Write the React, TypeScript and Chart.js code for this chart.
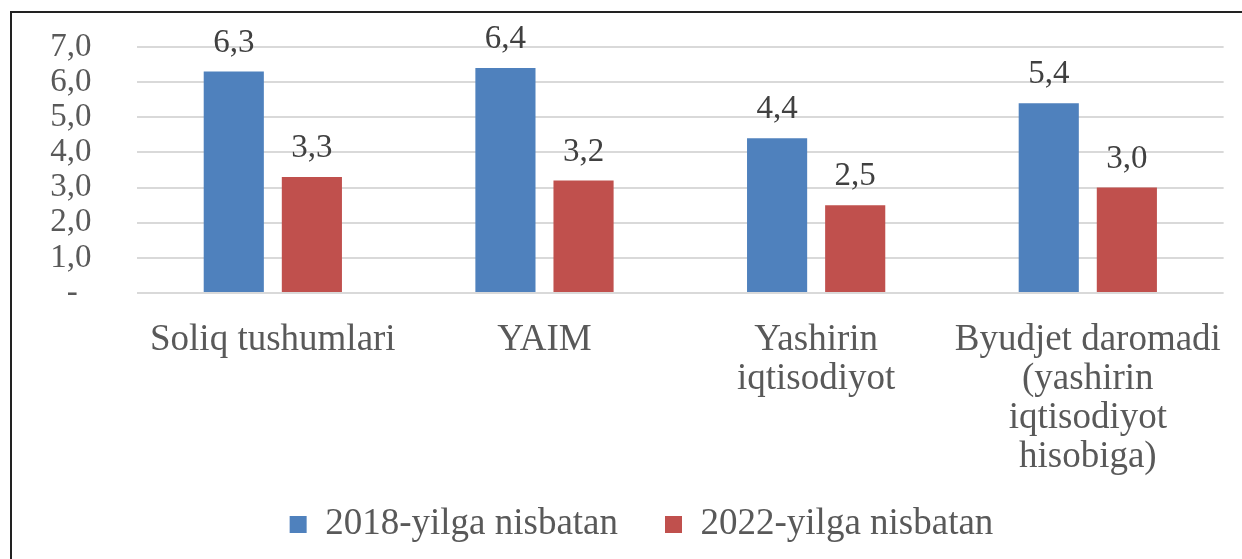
import React, { useEffect, useRef } from "react";
import { Chart, registerables } from "chart.js";

Chart.register(...registerables);

const categories: (string | string[])[] = [
  "Soliq tushumlari",
  "YAIM",
  ["Yashirin", "iqtisodiyot"],
  ["Byudjet daromadi", "(yashirin", "iqtisodiyot", "hisobiga)"],
];
const seriesNames = ["2018-yilga nisbatan", "2022-yilga nisbatan"];
const values2018 = [6.3, 6.4, 4.4, 5.4];
const values2022 = [3.3, 3.2, 2.5, 3.0];
const yMin = 0;
const yMax = 7;
const yStep = 1;

const FONT = "'Liberation Serif', 'Times New Roman', serif";
const fmt = (v: number) => v.toFixed(1).replace(".", ",");

const dataLabelPlugin = {
  id: "dataLabels",
  afterDatasetsDraw(chart: any) {
    const ctx = chart.ctx;
    ctx.save();
    ctx.font = `33px ${FONT}`;
    ctx.fillStyle = "#404040";
    ctx.textAlign = "center";
    ctx.textBaseline = "alphabetic";
    chart.data.datasets.forEach((ds: any, i: number) => {
      const meta = chart.getDatasetMeta(i);
      meta.data.forEach((bar: any, j: number) => {
        ctx.fillText(fmt(ds.data[j]), bar.x, bar.y - 20);
      });
    });
    ctx.restore();
  },
};

export default function App() {
  const ref = useRef<HTMLCanvasElement>(null);
  useEffect(() => {
    if (!ref.current) return;
    const chart = new Chart(ref.current, {
      type: "bar",
      data: {
        labels: categories,
        datasets: [
          {
            label: seriesNames[0],
            data: values2018,
            backgroundColor: "#4F81BD",
            categoryPercentage: 0.575,
            barPercentage: 0.77,
          },
          {
            label: seriesNames[1],
            data: values2022,
            backgroundColor: "#C0504D",
            categoryPercentage: 0.575,
            barPercentage: 0.77,
          },
        ],
      },
      options: {
        responsive: false,
        animation: false,
        devicePixelRatio: 1,
        layout: { padding: { top: 34, left: 30, right: 0, bottom: 6 } },
        plugins: {
          legend: {
            position: "bottom",
            labels: {
              boxWidth: 17,
              boxHeight: 17,
              padding: 10,
              color: "#595959",
              font: { family: FONT, size: 37 },
              generateLabels: (c: any) => {
                const items = Chart.defaults.plugins.legend.labels.generateLabels(c);
                items.forEach((it: any, i: number) => {
                  if (i === 0) it.text = it.text + "    ";
                  it.lineWidth = 0;
                });
                return items;
              },
            },
          },
          tooltip: { enabled: false },
        },
        scales: {
          x: {
            grid: {
              display: true,
              drawOnChartArea: false,
              drawTicks: true,
              tickLength: 10,
              color: "rgba(0,0,0,0)",
            },
            border: { display: false },
            afterFit: (s: any) => {
              s.height = 203;
            },
            ticks: {
              color: "#595959",
              padding: 18,
              maxRotation: 0,
              autoSkip: false,
              font: { family: FONT, size: 37, lineHeight: 1.05 },
            },
          },
          y: {
            min: yMin,
            max: yMax,
            afterFit: (s: any) => {
              s.width = 95;
            },
            grid: { color: "#d9d9d9", lineWidth: 2, drawTicks: false },
            border: { display: false },
            ticks: {
              stepSize: yStep,
              autoSkip: false,
              crossAlign: "far",
              padding: 0,
              color: "#595959",
              font: { family: FONT, size: 33 },
              callback: (v: any) => (Number(v) === 0 ? "   -" : " " + fmt(Number(v))),
            },
          },
          yRight: {
            position: "right",
            afterFit: (s: any) => {
              s.width = 17;
            },
            grid: { display: false },
            border: { display: false },
            ticks: { display: false },
          },
        },
      },
      plugins: [dataLabelPlugin],
    });
    return () => chart.destroy();
  }, []);

  return (
    <div
      style={{
        position: "fixed",
        left: 10,
        top: 11,
        right: 0,
        bottom: 0,
        borderLeft: "2px solid #222",
        borderTop: "2px solid #222",
        background: "#fff",
        overflow: "hidden",
      }}
    >
      <canvas ref={ref} width={1229} height={546} style={{ display: "block" }} />
    </div>
  );
}
